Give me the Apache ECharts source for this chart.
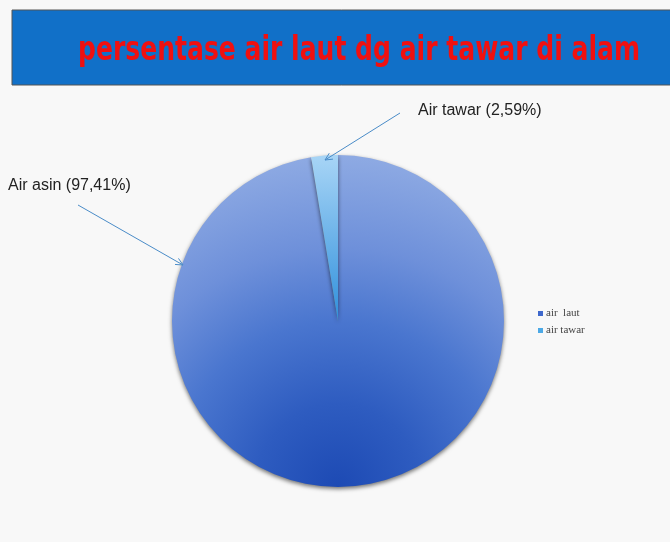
<!DOCTYPE html>
<html>
<head>
<meta charset="utf-8">
<script src="https://cdn.jsdelivr.net/npm/echarts@6/dist/echarts.min.js"></script>
<style>
html,body{margin:0;padding:0;background:#f8f8f8;}
#c{width:670px;height:542px;}
</style>
</head>
<body>
<div id="c"></div>
<script>
var categories = ['air  laut', 'air tawar'];
var values = [97.41, 2.59];
var calloutLabels = ['Air asin (97,41%)', 'Air tawar (2,59%)'];
var titleText = 'persentase air laut dg air tawar di alam';

var CX = 338, CY = 321, R = 166;
var chart = echarts.init(document.getElementById('c'));

var baseData = categories.map(function (c, i) {
  return {
    name: c,
    value: values[i],
    itemStyle: {
      color: i === 0 ? {
        type: 'radial', global: true, x: CX, y: CY + R, r: 2 * R,
        colorStops: [{offset: 0, color: '#1d4ab4'}, {offset: 0.25, color: '#2e5cc0'}, {offset: 0.5, color: '#4a76cf'}, {offset: 0.72, color: '#6e90da'}, {offset: 1, color: '#8eaae3'}]
      } : {
        type: 'linear', global: true, x: 0, y: CY - R, x2: 0, y2: CY,
        colorStops: [{offset: 0, color: '#a8d5f6'}, {offset: 1, color: '#3090dc'}]
      }
    }
  };
});

function arrow(x1, y1, x2, y2) {
  var ang = Math.atan2(y2 - y1, x2 - x1), L = 8, W = 0.45;
  return [
    {type: 'line', z: 100, shape: {x1: x1, y1: y1, x2: x2, y2: y2}, style: {stroke: '#4a8cc8', lineWidth: 1}},
    {type: 'polyline', z: 100, shape: {points: [
      [x2 - L * Math.cos(ang - W), y2 - L * Math.sin(ang - W)], [x2, y2],
      [x2 - L * Math.cos(ang + W), y2 - L * Math.sin(ang + W)]]},
      style: {stroke: '#4a8cc8', lineWidth: 1, fill: null}}
  ];
}

var titleFont = 'bold 34px "DejaVu Sans"';
var ctx = document.createElement('canvas').getContext('2d');
ctx.font = titleFont;
var tw = ctx.measureText(titleText).width;
var sx = 562 / tw;

var graphics = [
  {type: 'rect', z: 0, shape: {x: 12, y: 10, width: 670, height: 75}, style: {fill: '#1170c8', stroke: '#555', lineWidth: 1}},
  {type: 'text', z: 1, x: 359, y: 51, scaleX: sx, style: {text: titleText, fill: '#f01010', font: titleFont, textAlign: 'center', textVerticalAlign: 'middle'}},
  {type: 'text', z: 100, x: 418, y: 111, style: {text: calloutLabels[1], fill: '#222', font: '16px "Liberation Sans", Arial', textVerticalAlign: 'middle'}},
  {type: 'text', z: 100, x: 8, y: 186, style: {text: calloutLabels[0], fill: '#222', font: '16px "Liberation Sans", Arial', textVerticalAlign: 'middle'}}
].concat(arrow(400, 113, 325, 160)).concat(arrow(78, 205, 183, 265));

chart.setOption({
  backgroundColor: '#f8f8f8',
  animation: false,
  legend: {
    orient: 'vertical', left: 533, top: 303, itemWidth: 5, itemHeight: 5, itemGap: 6, icon: 'rect',
    textStyle: {fontFamily: '"Liberation Serif", serif', fontSize: 11, color: '#444', padding: [0, 0, 0, -2]},
    data: [
      {name: categories[0], itemStyle: {color: '#3e68cc'}},
      {name: categories[1], itemStyle: {color: '#4ca9e6'}}
    ]
  },
  series: [{
    type: 'pie',
    center: [CX, CY],
    radius: [0, R],
    startAngle: 90,
    clockwise: true,
    label: {show: false},
    labelLine: {show: false},
    emphasis: {disabled: true},
    itemStyle: {shadowBlur: 4, shadowColor: 'rgba(0,0,0,0.55)', shadowOffsetY: 2, borderWidth: 0},
    data: baseData
  }],
  graphic: graphics
});
</script>
</body>
</html>
